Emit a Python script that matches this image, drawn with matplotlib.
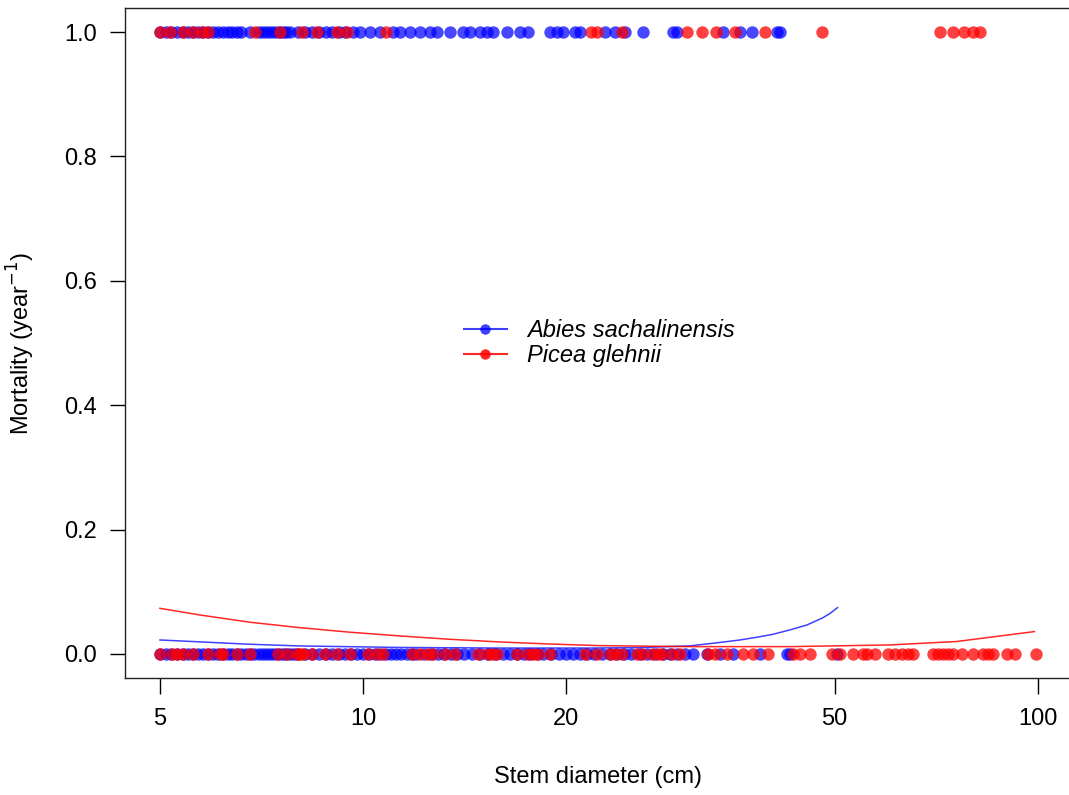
import matplotlib
matplotlib.use("Agg")
import matplotlib.pyplot as plt
from matplotlib.lines import Line2D

plt.rcParams['font.family'] = ['Liberation Sans', 'DejaVu Sans']

# Abies sachalinensis: stem diameters (cm) of trees that survived (0) / died (1)
abies_alive = [5.0, 5.1, 5.2, 5.3, 5.4, 5.5, 5.6, 5.7, 5.8, 5.9, 6.0, 6.1, 6.2, 6.3,
               6.4, 6.5, 6.6, 6.7, 6.8, 6.9, 7.0, 7.1, 7.2, 7.3, 7.4, 7.5, 7.6, 7.7,
               7.8, 7.9, 8.0, 8.2, 8.4, 8.6, 8.8, 9.0, 9.2, 9.4, 9.6, 9.8, 10.0, 10.2,
               10.4, 10.6, 10.8, 11.0, 11.2, 11.4, 11.6, 11.8, 12.0, 12.3, 12.6, 12.9,
               13.2, 13.5, 13.8, 14.1, 14.5, 14.9, 15.3, 15.7, 16.1, 16.5, 16.9, 17.3,
               17.7, 18.1, 18.5, 19.0, 19.5, 20.0, 20.5, 21.0, 21.5, 22.0, 22.6, 23.2,
               23.8, 24.4, 25.0, 25.7, 26.4, 27.1, 27.8, 28.5, 29.2, 30.0, 30.8, 32.3,
               33.8, 35.3, 38.7, 42.5, 42.9, 50.5]
abies_dead = [5.0, 5.1, 5.2, 5.3, 5.4, 5.5, 5.6, 5.7, 5.8, 5.9, 6.0, 6.1, 6.2, 6.3,
              6.4, 6.5, 6.6, 6.8, 7.0, 7.1, 7.2, 7.3, 7.4, 7.5, 7.6, 7.7, 7.8, 8.0,
              8.2, 8.4, 8.6, 8.8, 9.0, 9.2, 9.4, 9.66, 9.9, 10.24, 10.59, 11.07, 11.34,
              11.73, 12.14, 12.56, 12.87, 13.45, 14.06, 14.4, 14.9, 15.26, 15.57,
              16.34, 17.08, 17.55, 18.92, 19.38, 19.78, 20.6, 20.96, 22.82, 23.62,
              24.44, 25.98, 28.79, 29.17, 34.13, 36.17, 37.69, 41.05, 41.46]

# Picea glehnii
picea_alive = [5.0, 5.21, 5.3, 5.41, 5.6, 5.89, 6.14, 6.2, 6.5, 6.8, 7.48, 7.71, 7.98,
               8.06, 8.14, 8.4, 8.78, 9.15, 9.56, 10.17, 10.48, 10.7, 11.81, 12.14,
               12.47, 12.69, 13.22, 13.68, 14.8, 15.31, 15.52, 15.79, 16.9, 17.55,
               17.85, 18.16, 18.92, 21.32, 22.21, 23.22, 23.62, 24.19, 25.46, 25.89,
               26.79, 27.34, 27.72, 28.68, 29.48, 32.43, 33.22, 34.6, 36.54, 37.81,
               39.81, 43.35, 44.4, 45.94, 49.51, 50.88, 53.18, 55.02, 55.79, 57.33,
               59.93, 61.37, 62.86, 64.16, 65.26, 69.88, 71.1, 72.32, 73.56, 74.81,
               77.15, 80.09, 82.87, 84.29, 85.74, 89.95, 92.43, 99.6]
picea_dead = [5.0, 5.17, 5.41, 5.6, 5.77, 5.89, 6.91, 7.53, 8.12, 8.54, 9.15, 9.46,
              10.81, 21.8, 22.2, 24.2, 30.2, 31.8, 33.4, 35.6, 39.4, 47.9, 71.6, 74.8,
              77.9, 80.1, 82.0]

# fitted mortality curves
abies_fit_d = [5.0, 6.8, 8.06, 11.34, 15.95, 21.7, 25.7, 30.5, 34.1, 36.2, 38.3, 40.5,
               42.9, 45.5, 48.0, 49.2, 50.5]
abies_fit_p = [0.0225, 0.0156, 0.0129, 0.0105, 0.0095, 0.0095, 0.0103, 0.013, 0.019,
               0.0225, 0.0268, 0.0316, 0.0386, 0.0466, 0.058, 0.065, 0.0745]
picea_fit_d = [5.0, 5.73, 6.8, 8.06, 9.56, 11.34, 13.45, 15.95, 18.91, 22.44, 30.5,
               42.9, 60.3, 75.8, 98.9]
picea_fit_p = [0.0734, 0.0627, 0.051, 0.0423, 0.035, 0.029, 0.0236, 0.0193, 0.016,
               0.0134, 0.0118, 0.0118, 0.0145, 0.020, 0.036]

xticks = [5, 10, 20, 50, 100]
yticks = [0.0, 0.2, 0.4, 0.6, 0.8, 1.0]

fig = plt.figure(figsize=(10.69, 7.95), dpi=100)
ax = fig.add_axes([0.1169, 0.1472, 0.8841, 0.8427])

blue = '#0000FF'
red = '#FF0000'
ms = 80
ax.scatter(abies_alive, [0] * len(abies_alive), s=ms, color=blue, alpha=0.72, linewidths=0, zorder=2)
ax.scatter(abies_dead, [1] * len(abies_dead), s=ms, color=blue, alpha=0.72, linewidths=0, zorder=2)
ax.scatter(picea_alive, [0] * len(picea_alive), s=ms, color=red, alpha=0.75, linewidths=0, zorder=3)
ax.scatter(picea_dead, [1] * len(picea_dead), s=ms, color=red, alpha=0.75, linewidths=0, zorder=3)

ax.plot(abies_fit_d, abies_fit_p, color=blue, alpha=0.75, lw=1.1, zorder=4)
ax.plot(picea_fit_d, picea_fit_p, color=red, alpha=0.85, lw=1.1, zorder=4)

ax.set_xscale('log')
ax.set_xlim(4.437, 111.7)
ax.set_ylim(-0.0386, 1.0386)
ax.set_xticks(xticks)
ax.set_xticklabels([str(x) for x in xticks])
ax.minorticks_off()
ax.set_yticks(yticks)
ax.set_yticklabels(['%.1f' % y for y in yticks])
ax.tick_params(axis='x', length=11.5, width=1, pad=10, labelsize=17)
ax.tick_params(axis='y', length=11, width=1, pad=9, labelsize=17)
for s in ax.spines.values():
    s.set_linewidth(1.0)
    s.set_color('#222222')

ax.set_xlabel('Stem diameter (cm)', fontsize=17)
ax.xaxis.set_label_coords(0.5, -0.132)
ax.set_ylabel('Mortality (year$^{-1}$)', fontsize=17)
ax.yaxis.set_label_coords(-0.093, 0.5)

handles = [Line2D([], [], color=blue, alpha=0.75, marker='o', markersize=7.5, markeredgewidth=0),
           Line2D([], [], color=red, alpha=0.85, marker='o', markersize=7.5, markeredgewidth=0)]
leg = ax.legend(handles, ['Abies sachalinensis', 'Picea glehnii'], loc='center left',
                bbox_to_anchor=(0.346, 0.5), frameon=False, borderpad=0,
                handlelength=1.82, handletextpad=0.85, labelspacing=0.1,
                prop={'style': 'italic', 'size': 17})

fig.savefig('out.png', dpi=100)
